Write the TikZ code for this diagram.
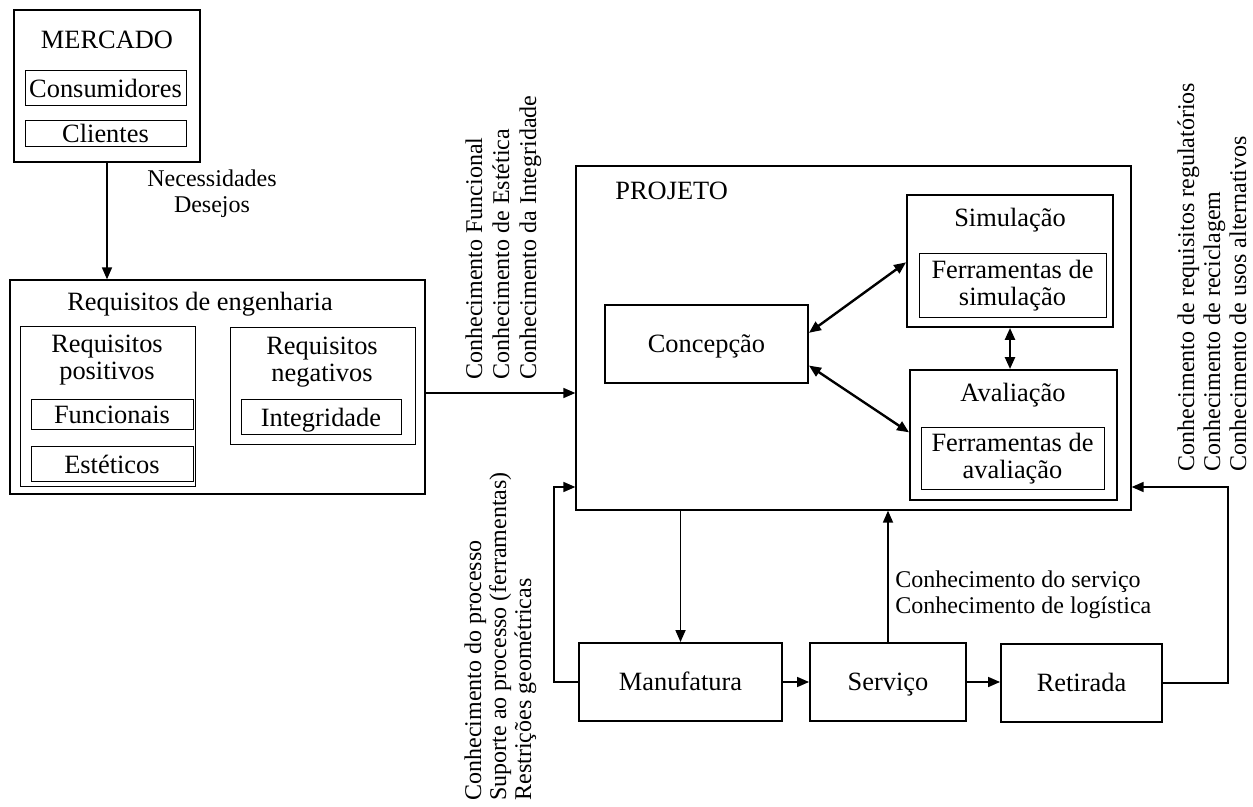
\documentclass[tikz,border=0pt]{standalone}
\usepackage{fontspec}
\setmainfont{Liberation Serif}
\usetikzlibrary{arrows.meta,fit,calc}
\begin{document}
\begin{tikzpicture}[x=0.5pt,y=-0.5pt,
  frame/.style={draw, line width=0.65pt, inner sep=0pt},
  inbox/.style={draw, line width=0.5pt, inner sep=0pt},
  stage/.style={draw, line width=0.95pt, inner sep=0pt},
  txt/.style={font=\fontsize{13.2}{13.5}\selectfont, inner sep=0pt, align=center},
  one/.style={txt, text height=8.7pt, text depth=0pt},
  lbl/.style={font=\fontsize{12}{13}\selectfont, inner sep=0pt},
  vlbl/.style={lbl, rotate=90, anchor=base west},
  arr/.style={line width=0.85pt, -{Triangle[length=6pt,width=5pt]}},
  darr/.style={line width=1.2pt, {Triangle[length=6pt,width=5pt]}-{Triangle[length=6pt,width=5pt]}}]
\useasboundingbox (0,0) rectangle (1253,807);

% market
\node[frame, fit={(14,10) (200,162)}] (mercado) {};
\node[one] (mercadoT) at (107,40) {MERCADO};
\node[inbox, fit={(25,71) (186,106)}] (consum) {};
\node[one] (consumT) at (consum.center) {Consumidores};
\node[inbox, fit={(25,121) (186,147)}] (client) {};
\node[one] (clientT) at (client.center) {Clientes};

% engineering requirements
\node[frame, fit={(10,280) (425,494)}] (req) {};
\node[one] (reqT) at (200,302) {Requisitos de engenharia};
\node[inbox, fit={(20,327) (195,487)}] (pos) {};
\node[txt] (posT) at (107,360) {Requisitos\\positivos};
\node[inbox, fit={(31,400) (193,430)}] (func) {};
\node[one] (funcT) at (func.center) {Funcionais};
\node[inbox, fit={(31,447) (193,482)}] (estet) {};
\node[one] (estetT) at (estet.center) {Estéticos};
\node[inbox, fit={(230,328) (415,445)}] (neg) {};
\node[txt] (negT) at (322,362) {Requisitos\\negativos};
\node[inbox, fit={(241,400) (401,435)}] (integ) {};
\node[one] (integT) at (integ.center) {Integridade};

% design
\node[frame, fit={(576,166) (1131,510)}] (projeto) {};
\node[txt, anchor=base west] (projetoT) at (615,200) {PROJETO};
\node[stage, fit={(605,305) (808,383)}] (conc) {};
\node[one] (concT) at (conc.center) {Concepção};
\node[stage, fit={(907,195) (1113,327)}] (sim) {};
\node[one] (simT) at (1010,218) {Simulação};
\node[inbox, fit={(919,254) (1106,318)}] (simF) {};
\node[txt] (simFT) at (simF.center) {Ferramentas de\\simulação};
\node[stage, fit={(910,370) (1117,500)}] (aval) {};
\node[one] (avalT) at (1013,393) {Avaliação};
\node[inbox, fit={(921,428) (1104,490)}] (avalF) {};
\node[txt] (avalFT) at (avalF.center) {Ferramentas de\\avaliação};

% life-cycle stages
\node[stage, fit={(579,643) (782,721)}] (manuf) {};
\node[one] (manufT) at (manuf.center) {Manufatura};
\node[stage, fit={(810,643) (966,721)}] (serv) {};
\node[one] (servT) at (serv.center) {Serviço};
\node[stage, fit={(1001,644) (1162,722)}] (ret) {};
\node[one] (retT) at (ret.center) {Retirada};

% labels
\node[lbl, align=center] (necT) at (212,194) {Necessidades\\Desejos};
\node[vlbl] (k1a) at (482,380) {Conhecimento Funcional};
\node[vlbl] (k1b) at (509,380) {Conhecimento de Estética};
\node[vlbl] (k1c) at (536,380) {Conhecimento da Integridade};
\node[vlbl] (k2a) at (481,801) {Conhecimento do processo};
\node[vlbl] (k2b) at (506,801) {Suporte ao processo (ferramentas)};
\node[vlbl] (k2c) at (531,801) {Restrições geométricas};
\node[vlbl] (k3a) at (1194,472) {Conhecimento de requisitos regulatórios};
\node[vlbl] (k3b) at (1220,472) {Conhecimento de reciclagem};
\node[vlbl] (k3c) at (1246,472) {Conhecimento de usos alternativos};
\node[lbl, anchor=north west, align=left] (kserv) at (895,570) {Conhecimento do serviço\\Conhecimento de logística};

% connectors
\coordinate (inY) at (0,393);
\coordinate (fbL) at (554,487);
\coordinate (fbR) at (1228,487);
\draw[arr] (mercado.south) -- (mercado.south |- req.north);
\draw[arr] (req.east |- inY) -- (projeto.west |- inY);
\draw[darr] ($(conc.north east)!0.36!(conc.south east)$) -- ($(sim.north west)!0.51!(sim.south west)$);
\draw[darr] ($(conc.north east)!0.77!(conc.south east)$) -- ($(aval.north west)!0.48!(aval.south west)$);
\draw[darr] (sim.south) -- (sim.south |- aval.north);
\draw[arr] (manuf.north |- projeto.south) -- (manuf.north);
\draw[arr] (manuf.west) -| (fbL) -- (projeto.west |- fbL);
\draw[arr] (manuf.east) -- (serv.west);
\draw[arr] (serv.east) -- (ret.west |- serv.east);
\draw[arr] (serv.north) -- (serv.north |- projeto.south);
\draw[arr] (ret.east) -| (fbR) -- (projeto.east |- fbR);
\end{tikzpicture}
\end{document}
